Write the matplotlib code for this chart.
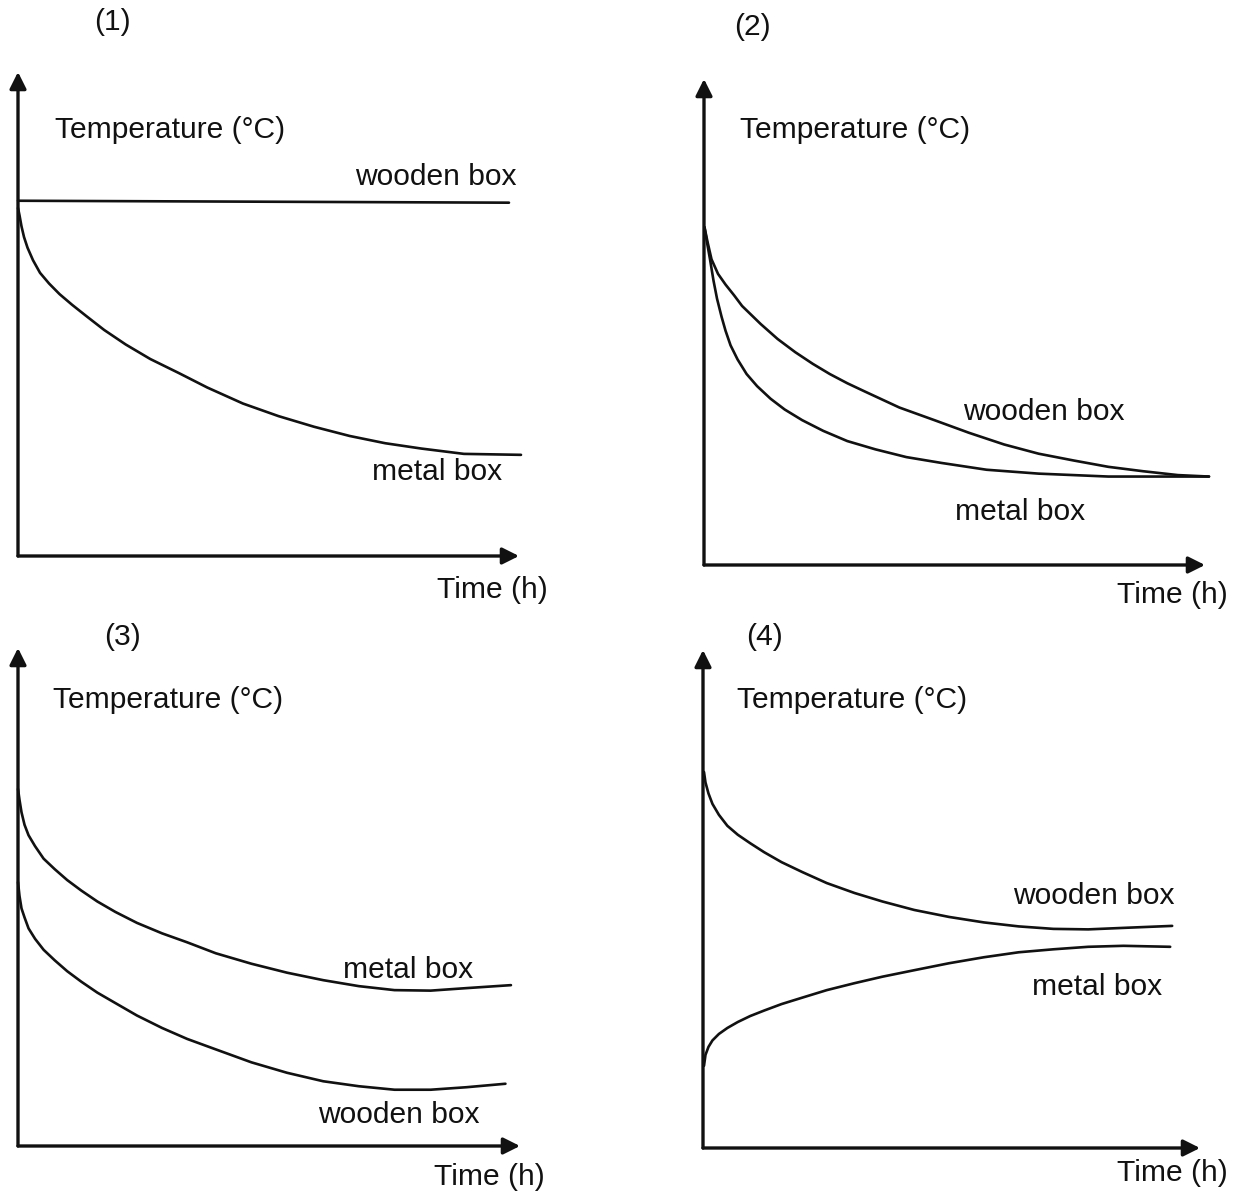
"""
Four sketch panels: temperature of a wooden box vs a metal box over time.
Values are read off the reference as % of each axis length (arrow tip = 100).
"""

import matplotlib.pyplot as plt

plt.rcParams["font.family"] = ["Liberation Sans", "DejaVu Sans"]

W_PX, H_PX = 1237, 1194
INK = "#111111"

# ── data (percent of axis length) ─────────────────────────────────
# panel (1)
P1_WOOD_T = [0, 98]
P1_WOOD = [73.4, 73.0]
P1_METAL_T = [0, 0.3, 0.7, 1.2, 1.9, 3.0, 4.4, 6.2, 8.3, 10.8, 13.6, 17.2, 21.5,
              26.4, 32.1, 37.8, 44.9, 52.0, 59.1, 66.2, 73.3, 80.5, 89.0, 100.4]
P1_METAL = [71.9, 70.4, 68.1, 65.9, 63.7, 61.1, 58.5, 56.3, 54.1, 51.9, 49.6, 46.7, 43.7,
            40.7, 37.8, 34.8, 31.5, 28.9, 26.7, 24.8, 23.3, 22.2, 21.1, 20.9]

# panel (2)
P2_WOOD_T = [0.1, 0.7, 1.5, 2.8, 4.3, 6.0, 7.6, 11.3, 14.7, 18.2, 21.7, 25.1, 28.6,
             32.1, 39.0, 46.0, 52.9, 59.9, 66.8, 73.8, 80.7, 87.6, 94.6, 100.8]
P2_WOOD = [69.5, 66.5, 62.9, 59.9, 57.7, 55.5, 53.3, 49.6, 46.5, 43.8, 41.4, 39.3, 37.4,
           35.7, 32.4, 29.8, 27.2, 24.8, 22.9, 21.5, 20.2, 19.3, 18.5, 18.2]
P2_METAL_T = [0.1, 0.7, 1.2, 1.9, 2.6, 3.5, 4.3, 5.3, 6.7, 8.5, 10.6, 13.3, 16.1,
              19.6, 23.8, 28.6, 34.2, 40.4, 47.4, 56.4, 66.8, 80.7, 100.8]
P2_METAL = [69.5, 65.8, 62.9, 58.5, 54.8, 51.1, 48.2, 45.2, 42.3, 39.3, 36.8, 34.2, 32.0,
            29.8, 27.6, 25.5, 23.8, 22.2, 21.0, 19.6, 18.8, 18.2, 18.2]

# panel (3)
P3_METAL_T = [0, 0.3, 0.7, 1.3, 2.1, 3.4, 5.1, 7.3, 9.8, 12.6, 15.8, 19.4, 23.7, 28.7,
              33.7, 39.4, 46.5, 53.6, 60.8, 67.9, 75.0, 82.2, 89.3, 98.2]
P3_METAL = [71.7, 69.5, 67.0, 64.5, 62.4, 60.2, 57.7, 55.6, 53.4, 51.3, 49.1, 47.0, 44.8, 42.7,
            40.9, 38.7, 36.6, 34.8, 33.3, 32.1, 31.3, 31.2, 31.7, 32.3]
P3_WOOD_T = [0, 0.3, 0.7, 1.3, 2.1, 3.4, 5.1, 7.3, 9.8, 12.6, 15.8, 19.4, 23.7, 28.7,
             33.7, 39.4, 46.5, 53.6, 60.8, 67.9, 75.0, 82.2, 89.3, 97.1]
P3_WOOD = [53.0, 50.2, 47.7, 45.9, 43.7, 41.6, 39.4, 37.3, 35.1, 33.0, 30.8, 28.7, 26.2, 23.7,
           21.5, 19.4, 16.8, 14.7, 13.0, 12.0, 11.3, 11.3, 11.8, 12.5]

# panel (4)
P4_WOOD_T = [0.2, 0.5, 1.1, 1.9, 3.2, 4.9, 7.0, 9.5, 12.3, 15.8, 20.0, 24.9, 30.5,
             36.1, 42.5, 49.5, 56.5, 63.5, 70.5, 77.5, 84.6, 94.4]
P4_WOOD = [75.5, 73.4, 71.2, 69.1, 66.9, 64.7, 62.9, 61.2, 59.4, 57.4, 55.4, 53.2, 51.2,
           49.5, 47.8, 46.4, 45.3, 44.5, 44.0, 43.9, 44.2, 44.6]
P4_METAL_T = [0.2, 0.5, 1.1, 1.9, 3.2, 4.9, 7.0, 9.5, 12.3, 15.8, 20.0, 24.9, 30.5,
              36.1, 42.5, 49.5, 56.5, 63.5, 70.5, 77.5, 84.6, 94.0]
P4_METAL = [16.5, 18.7, 20.3, 21.6, 22.9, 24.1, 25.3, 26.5, 27.6, 28.9, 30.2, 31.7, 33.1,
            34.4, 35.7, 37.1, 38.3, 39.3, 39.9, 40.4, 40.6, 40.4]

Y_LABEL = "Temperature (°C)"
X_LABEL = "Time (h)"


def px(x, y):
    """pixel position (from top-left) -> figure fraction"""
    return x / W_PX, 1 - y / H_PX


def make_axes(fig, left, top, right, bottom):
    x0, y0 = px(left, bottom)
    x1, y1 = px(right, top)
    ax = fig.add_axes([x0, y0, x1 - x0, y1 - y0])
    ax.set_xlim(0, 100)
    ax.set_ylim(0, 100)
    ax.set_axis_off()
    arrow = dict(arrowstyle="-|>,head_length=0.5,head_width=0.25", color=INK,
                 lw=2.4, mutation_scale=20, shrinkA=0, shrinkB=0)
    ax.annotate("", xy=(100, 0), xytext=(0, 0), arrowprops=arrow,
                annotation_clip=False)
    ax.annotate("", xy=(0, 100), xytext=(0, 0), arrowprops=arrow,
                annotation_clip=False)
    return ax


def label(fig, x, y, s, ha="left"):
    fig.text(*px(x, y), s, ha=ha, va="center", fontsize=21.6, color=INK)


def main():
    fig = plt.figure(figsize=(W_PX / 100, H_PX / 100), dpi=100)
    fig.patch.set_facecolor("white")
    line_kw = dict(color=INK, lw=1.9, clip_on=False,
                   solid_capstyle="round", solid_joinstyle="round")

    # (1)
    ax1 = make_axes(fig, 18, 72, 519, 556)
    ax1.plot(P1_WOOD_T, P1_WOOD, **line_kw)
    ax1.plot(P1_METAL_T, P1_METAL, **line_kw)
    label(fig, 112, 22, "(1)", ha="center")
    label(fig, 55, 130, Y_LABEL)
    label(fig, 355, 177, "wooden box")
    label(fig, 372, 472, "metal box")
    label(fig, 548, 590, X_LABEL, ha="right")

    # (2)
    ax2 = make_axes(fig, 704, 79, 1205, 565)
    ax2.plot(P2_WOOD_T, P2_WOOD, **line_kw)
    ax2.plot(P2_METAL_T, P2_METAL, **line_kw)
    label(fig, 752, 27, "(2)", ha="center")
    label(fig, 740, 130, Y_LABEL)
    label(fig, 963, 412, "wooden box")
    label(fig, 955, 512, "metal box")
    label(fig, 1228, 595, X_LABEL, ha="right")

    # (3)
    ax3 = make_axes(fig, 18, 648, 520, 1146)
    ax3.plot(P3_METAL_T, P3_METAL, **line_kw)
    ax3.plot(P3_WOOD_T, P3_WOOD, **line_kw)
    label(fig, 122, 637, "(3)", ha="center")
    label(fig, 53, 700, Y_LABEL)
    label(fig, 343, 970, "metal box")
    label(fig, 318, 1115, "wooden box")
    label(fig, 545, 1177, X_LABEL, ha="right")

    # (4)
    ax4 = make_axes(fig, 703, 650, 1200, 1148)
    ax4.plot(P4_WOOD_T, P4_WOOD, **line_kw)
    ax4.plot(P4_METAL_T, P4_METAL, **line_kw)
    label(fig, 765, 637, "(4)", ha="center")
    label(fig, 737, 700, Y_LABEL)
    label(fig, 1013, 896, "wooden box")
    label(fig, 1032, 987, "metal box")
    label(fig, 1228, 1173, X_LABEL, ha="right")

    fig.savefig("out.png", dpi=100, facecolor="white")
    plt.close(fig)


if __name__ == "__main__":
    main()
